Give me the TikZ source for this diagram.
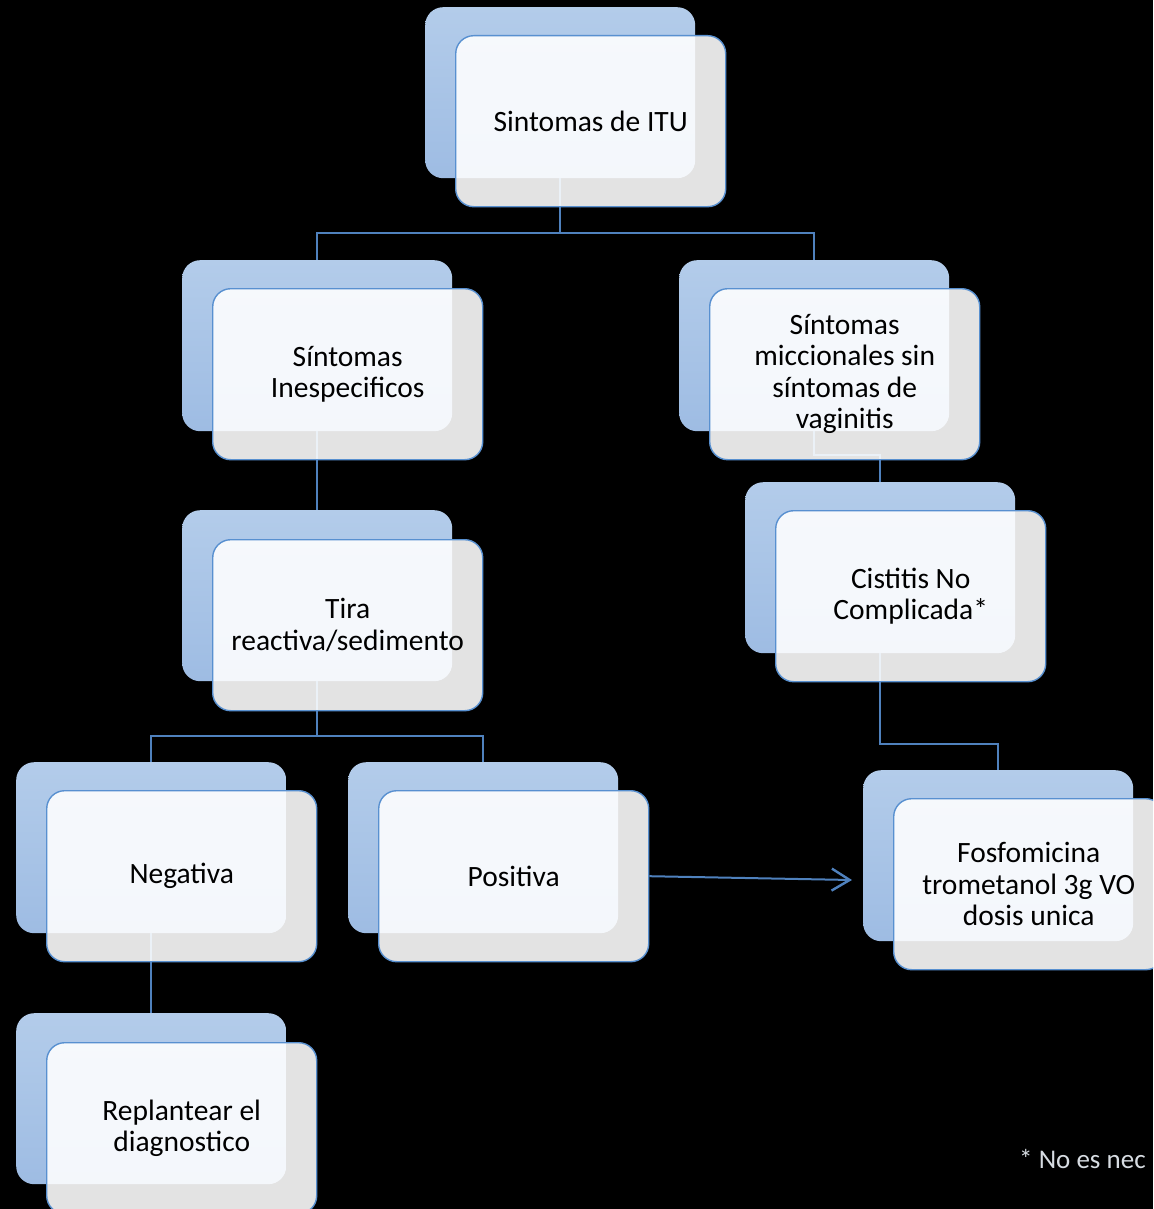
\documentclass[tikz,border=0pt]{standalone}
\usepackage{fontspec}
\setmainfont{Carlito}
\usetikzlibrary{arrows.meta}
\definecolor{bluetop}{RGB}{179,204,234}
\definecolor{bluebot}{RGB}{158,188,227}
\definecolor{edgeblue}{RGB}{88,144,208}
\definecolor{linkblue}{RGB}{79,129,189}
\definecolor{notegray}{RGB}{215,220,226}
\tikzset{
  backbox/.style={rounded corners=18pt, top color=bluetop, bottom color=bluebot,
    draw=none, minimum width=270pt, minimum height=171pt, inner sep=0pt, anchor=north west},
  frontbox/.style={rounded corners=18pt, fill=white, fill opacity=0.89, text opacity=1,
    draw=edgeblue, draw opacity=1, line width=1.4pt, minimum width=270pt, minimum height=171pt,
    inner sep=0pt, anchor=north west, align=center, font=\fontsize{29.5}{31.5}\selectfont, text=black},
  link/.style={draw=linkblue, line width=2pt},
}
\begin{document}
\begin{tikzpicture}[x=1pt,y=-1pt]
  \useasboundingbox (0,0) rectangle (1153,1209);
  \fill[black] (0,0) rectangle (1153,1209);
  \clip (0,0) rectangle (1153,1209);

  % rear blue cards
  \node[backbox] (itub)  at (425,7)    {};
  \node[backbox] (inesb) at (182,260)  {};
  \node[backbox] (miccb) at (679,260)  {};
  \node[backbox] (tirab) at (182,510)  {};
  \node[backbox] (cistb) at (745,482)  {};
  \node[backbox] (negb)  at (16,762)   {};
  \node[backbox] (posb)  at (348,762)  {};
  \node[backbox] (fosfb) at (863,770)  {};
  \node[backbox] (replb) at (16,1013)  {};

  % connectors between the cards
  \draw[link] (itub.south) -- (itub.south |- 0,233) -| (inesb.north);
  \draw[link] (itub.south) -- (itub.south |- 0,233) -| (miccb.north);
  \draw[link] (inesb.south) -- (tirab.north);
  \draw[link] (miccb.south) |- (cistb.north |- 0,455) -- (cistb.north);
  \draw[link] (tirab.south) -- (tirab.south |- 0,736) -| (negb.north);
  \draw[link] (tirab.south) -- (tirab.south |- 0,736) -| (posb.north);
  \draw[link] (cistb.south) |- (fosfb.north |- 0,744) -- (fosfb.north);
  \draw[link] (negb.south) -- (replb.north);

  % front cards with the text
  \node[frontbox] (itu)  at (455,35)   {Sintomas de ITU};
  \node[frontbox] (ines) at (212,288)  {Síntomas\\Inespecificos};
  \node[frontbox] (micc) at (709,288)  {Síntomas\\miccionales sin\\síntomas de\\vaginitis};
  \node[frontbox] (tira) at (212,539)  {Tira\\reactiva/sedimento};
  \node[frontbox] (cist) at (775,510)  {Cistitis No\\Complicada*};
  \node[frontbox] (neg)  at (46,790)   {Negativa};
  \node[frontbox] (pos)  at (378,790)  {Positiva};
  \node[frontbox] (fosf) at (893,798)  {Fosfomicina\\trometanol 3g VO\\dosis unica};
  \node[frontbox] (repl) at (46,1042)  {Replantear el\\diagnostico};

  % arrow from the positive result to the treatment
  \coordinate (tipend) at (852,880);
  \draw[link, -{Straight Barb[length=18pt,width=22pt,line width=2.4pt]}] (pos.east) -- (tipend);

  % footnote
  \node[anchor=base west, text=notegray, font=\fontsize{27}{31}\selectfont, inner sep=0pt]
    (note) at (1019,1168) {* No es nec};
\end{tikzpicture}
\end{document}
